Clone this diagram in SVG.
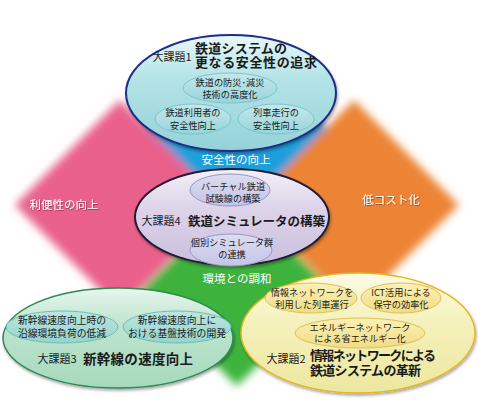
<svg xmlns="http://www.w3.org/2000/svg" width="478" height="400" viewBox="0 0 478 400">
<defs>
<filter id="blur" x="-20%" y="-20%" width="140%" height="140%"><feGaussianBlur stdDeviation="4"/></filter>
<filter id="shadow" x="-10%" y="-10%" width="120%" height="130%"><feDropShadow dx="1" dy="2" stdDeviation="1.5" flood-color="#000" flood-opacity="0.35"/></filter>
<filter id="tshadow" x="-10%" y="-30%" width="120%" height="160%"><feDropShadow dx="0.6" dy="0.8" stdDeviation="0.6" flood-color="#000" flood-opacity="0.45"/></filter>
<linearGradient id="gTop" x1="0" y1="0" x2="0" y2="1"><stop offset="0" stop-color="#eaf8f9"/><stop offset="0.35" stop-color="#b6e4e7"/><stop offset="1" stop-color="#94d2d8"/></linearGradient>
<linearGradient id="gTopIn" x1="0" y1="0" x2="0" y2="1"><stop offset="0" stop-color="#c3e9ec"/><stop offset="1" stop-color="#98d4da"/></linearGradient>
<linearGradient id="gMid" x1="0" y1="0" x2="0" y2="1"><stop offset="0" stop-color="#f4f0f8"/><stop offset="0.4" stop-color="#ddd4ea"/><stop offset="1" stop-color="#cbbfdd"/></linearGradient>
<linearGradient id="gMidIn" x1="0" y1="0" x2="0" y2="1"><stop offset="0" stop-color="#dcdcf1"/><stop offset="1" stop-color="#c4c5e6"/></linearGradient>
<linearGradient id="gGreen" x1="0" y1="0" x2="0" y2="1"><stop offset="0" stop-color="#e8f6ee"/><stop offset="0.35" stop-color="#bfe5cf"/><stop offset="1" stop-color="#a6d9bc"/></linearGradient>
<linearGradient id="gGreenIn" x1="0" y1="0" x2="0" y2="1"><stop offset="0" stop-color="#bde6e0"/><stop offset="1" stop-color="#97d3cc"/></linearGradient>
<linearGradient id="gYel" x1="0" y1="0" x2="0" y2="1"><stop offset="0" stop-color="#fcfbe4"/><stop offset="0.4" stop-color="#f5f1bd"/><stop offset="1" stop-color="#ece79e"/></linearGradient>
<linearGradient id="gYelIn" x1="0" y1="0" x2="0" y2="1"><stop offset="0" stop-color="#fbf0b6"/><stop offset="1" stop-color="#f1dd85"/></linearGradient>
</defs>
<style>
text{font-family:"Noto Sans CJK JP","Noto Sans",sans-serif;fill:#1a1a1a}
.lbl{font-size:11.5px;fill:#fff}
.inner{font-size:9.2px;text-anchor:middle}
.tag{font-size:11px;text-anchor:middle}
.head{font-size:13px;font-weight:700}
.inTop{fill:url(#gTopIn);stroke:#7fc3ca;stroke-width:1}
.inMid{fill:url(#gMidIn);stroke:#9596c8;stroke-width:1}
.inGreen{fill:url(#gGreenIn);stroke:#6cbdb6;stroke-width:1}
.inYel{fill:url(#gYelIn);stroke:#ddbf55;stroke-width:1}
</style>

<g id="background" filter="url(#blur)">
<polygon points="237,42 332,132 237,226 142,132" fill="#1f9fdc"/>
<polygon points="237,196 333,291 237,386 141,291" fill="#3db33c"/>
<polygon points="120,100 225,205 120,310 15,205" fill="#e9608b"/>
<polygon points="354,100 459,205 354,310 249,205" fill="#ec8334"/>
</g>

<g id="labels">
<text class="lbl" x="64" y="209" text-anchor="middle" filter="url(#tshadow)">利便性の向上</text>
<text class="lbl" x="391" y="204" text-anchor="middle" filter="url(#tshadow)">低コスト化</text>
<text class="lbl" x="236" y="164" text-anchor="middle">安全性の向上</text>
<text class="lbl" x="237" y="283" text-anchor="middle">環境との調和</text>
</g>

<g id="task1">
<ellipse cx="231" cy="93" rx="105" ry="58" fill="url(#gTop)" stroke="#1d2d88" stroke-width="2" filter="url(#shadow)"/>
<text class="tag" x="172" y="61">大課題1</text>
<text class="head" x="195" y="52.5" textLength="92">鉄道システムの</text>
<text class="head" x="195" y="67" textLength="122">更なる安全性の追求</text>
<ellipse class="inTop" cx="230" cy="88" rx="47" ry="15"/>
<text class="inner" x="230" y="85.5">鉄道の防災･減災</text>
<text class="inner" x="230" y="97.5">技術の高度化</text>
<ellipse class="inTop" cx="193" cy="119" rx="38" ry="15"/>
<text class="inner" x="193" y="115.5">鉄道利用者の</text>
<text class="inner" x="193" y="128.5">安全性向上</text>
<ellipse class="inTop" cx="276" cy="119" rx="38" ry="15"/>
<text class="inner" x="276" y="115.5">列車走行の</text>
<text class="inner" x="276" y="128.5">安全性向上</text>
</g>

<g id="task4">
<ellipse cx="232" cy="217" rx="97" ry="48" fill="url(#gMid)" stroke="#231b33" stroke-width="2" filter="url(#shadow)"/>
<ellipse class="inMid" cx="230" cy="190" rx="40" ry="16"/>
<text class="inner" x="233" y="189.5">バーチャル鉄道</text>
<text class="inner" x="233" y="201.5">試験線の構築</text>
<text class="tag" x="161" y="225">大課題4</text>
<text class="head" x="188" y="225.5" textLength="137" style="font-size:12.5px">鉄道シミュレータの構築</text>
<ellipse class="inMid" cx="231" cy="250" rx="41" ry="16"/>
<text class="inner" x="232" y="245.5">個別シミュレータ群</text>
<text class="inner" x="232" y="257.5">の連携</text>
</g>

<g id="task3">
<ellipse cx="118" cy="338" rx="115" ry="50" fill="url(#gGreen)" stroke="#2f8a55" stroke-width="1.5" filter="url(#shadow)"/>
<ellipse class="inGreen" cx="62" cy="327" rx="56" ry="16"/>
<text class="inner" x="62" y="323.5" style="font-size:9.8px">新幹線速度向上時の</text>
<text class="inner" x="62" y="336.5" style="font-size:9.8px">沿線環境負荷の低減</text>
<ellipse class="inGreen" cx="177" cy="327" rx="54" ry="16"/>
<text class="inner" x="177" y="323.5" style="font-size:9.8px">新幹線速度向上に</text>
<text class="inner" x="177" y="336.5" style="font-size:9.8px">おける基盤技術の開発</text>
<text class="tag" x="57" y="363">大課題3</text>
<text class="head" x="83" y="364" textLength="110" style="font-size:13.5px">新幹線の速度向上</text>
</g>

<g id="task2">
<ellipse cx="358" cy="333" rx="117" ry="60" fill="url(#gYel)" stroke="#e6b61a" stroke-width="1.5" filter="url(#shadow)"/>
<ellipse class="inYel" cx="311" cy="298" rx="46" ry="15"/>
<text class="inner" x="312" y="295.5">情報ネットワークを</text>
<text class="inner" x="312" y="307.5">利用した列車運行</text>
<ellipse class="inYel" cx="401" cy="298" rx="40" ry="15"/>
<text class="inner" x="401" y="295.5">ICT活用による</text>
<text class="inner" x="401" y="307.5">保守の効率化</text>
<ellipse class="inYel" cx="360" cy="333" rx="65" ry="15"/>
<text class="inner" x="360" y="330.5">エネルギーネットワーク</text>
<text class="inner" x="360" y="342">による省エネルギー化</text>
<text class="tag" x="286" y="363">大課題2</text>
<text class="head" x="310" y="359.5" textLength="126">情報ネットワークによる</text>
<text class="head" x="310" y="375" textLength="111">鉄道システムの革新</text>
</g>
</svg>
